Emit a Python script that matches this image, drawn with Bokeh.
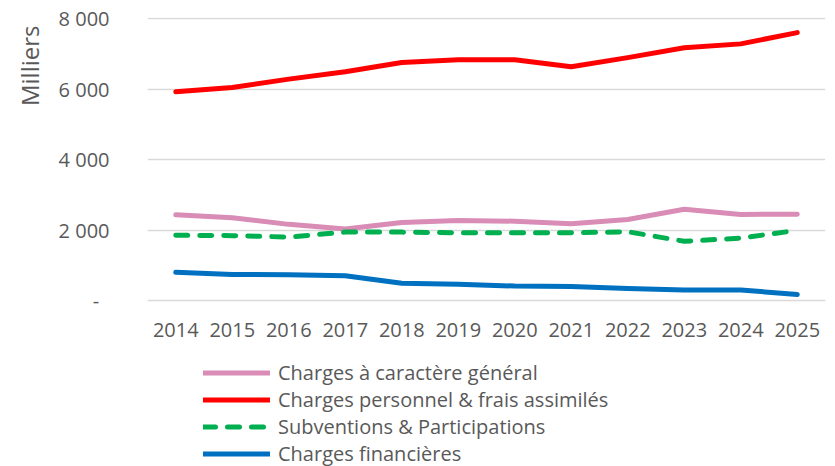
from bokeh.plotting import figure
from bokeh.models import (ColumnDataSource, FactorRange, Range1d, FixedTicker,
                          Legend, LegendItem, Title)
from bokeh.embed import file_html
from bokeh.resources import INLINE

years = ["2014", "2015", "2016", "2017", "2018", "2019", "2020", "2021",
         "2022", "2023", "2024", "2025"]
charges_generales = [2430, 2350, 2160, 2030, 2210, 2270, 2250, 2180, 2300, 2590, 2440, 2450]
charges_personnel = [5920, 6040, 6280, 6490, 6750, 6830, 6830, 6630, 6890, 7170, 7280, 7600]
subventions = [1850, 1840, 1800, 1940, 1940, 1920, 1920, 1920, 1950, 1680, 1770, 1990]
charges_financieres = [800, 740, 730, 700, 490, 460, 410, 400, 340, 300, 300, 170]

series_names = ["Charges à caractère général", "Charges personnel & frais assimilés",
                "Subventions & Participations", "Charges financières"]
y_tick_values = [0, 2000, 4000, 6000, 8000]
y_tick_labels = ["-\u00a0\u00a0", "2 000", "4 000", "6 000", "8 000"]
y_axis_title = "Milliers"

FONT = "Open Sans"
TXT = "#595959"

W, H = 827, 466
TOP, LEFT, RIGHT = 17, 147, 2
PX_PER_UNIT = 282 / 8000          # plot-area scale
Y_END = 8000 + 1 / PX_PER_UNIT    # one pixel of headroom above the top gridline
frame_h = H - TOP
y_start = Y_END - frame_h / PX_PER_UNIT   # extra room below zero for labels/legend

source = ColumnDataSource(dict(x=years, a=charges_generales, b=charges_personnel,
                               c=subventions, d=charges_financieres))

p = figure(width=W, height=H, output_backend="svg", toolbar_location=None,
           x_range=FactorRange(*years, range_padding=0), y_range=Range1d(y_start, Y_END),
           min_border_left=LEFT, min_border_right=RIGHT, min_border_top=TOP,
           min_border_bottom=0)
p.outline_line_color = None
p.background_fill_color = "white"
p.border_fill_color = "white"

r1 = p.line("x", "a", source=source, line_color="#d98cb5", line_width=5, line_cap="round", line_join="round")
r2 = p.line("x", "b", source=source, line_color="#ff0000", line_width=5, line_cap="round", line_join="round")
r3 = p.line("x", "c", source=source, line_color="#00b050", line_width=5, line_cap="round", line_join="round",
            line_dash="12 12")
r4 = p.line("x", "d", source=source, line_color="#0070c0", line_width=5, line_cap="round", line_join="round")

p.xgrid.grid_line_color = None
p.ygrid.grid_line_color = "#d9d9d9"
p.ygrid.grid_line_width = 1.5
p.yaxis.ticker = FixedTicker(ticks=y_tick_values)
p.yaxis.major_label_overrides = {v: l for v, l in zip(y_tick_values, y_tick_labels)}
p.xaxis.fixed_location = 0

for ax in (p.xaxis[0], p.yaxis[0]):
    ax.axis_line_color = None
    ax.major_tick_line_color = None
    ax.minor_tick_line_color = None
    ax.major_tick_out = 0
    ax.major_tick_in = 0
    ax.major_label_text_font = FONT
    ax.major_label_text_font_size = "20px"
    ax.major_label_text_color = TXT
p.xaxis.major_label_standoff = 22
p.yaxis.major_label_standoff = 38

t = Title(text=y_axis_title, align="right", text_font=FONT, text_font_size="24px",
          text_font_style="normal", text_color=TXT, offset=8, standoff=19)
p.add_layout(t, "left")

legend = Legend(items=[LegendItem(label=n, renderers=[r]) for n, r in
                       zip(series_names, [r1, r2, r3, r4])],
                location=(56, -1), orientation="vertical",
                label_text_font=FONT, label_text_font_size="20px", label_text_color=TXT,
                glyph_width=67, glyph_height=27, label_height=27, spacing=0,
                label_standoff=8, padding=0, margin=0,
                border_line_color=None, background_fill_alpha=0)
p.add_layout(legend)

open("out.html", "w").write(file_html(p, INLINE))
